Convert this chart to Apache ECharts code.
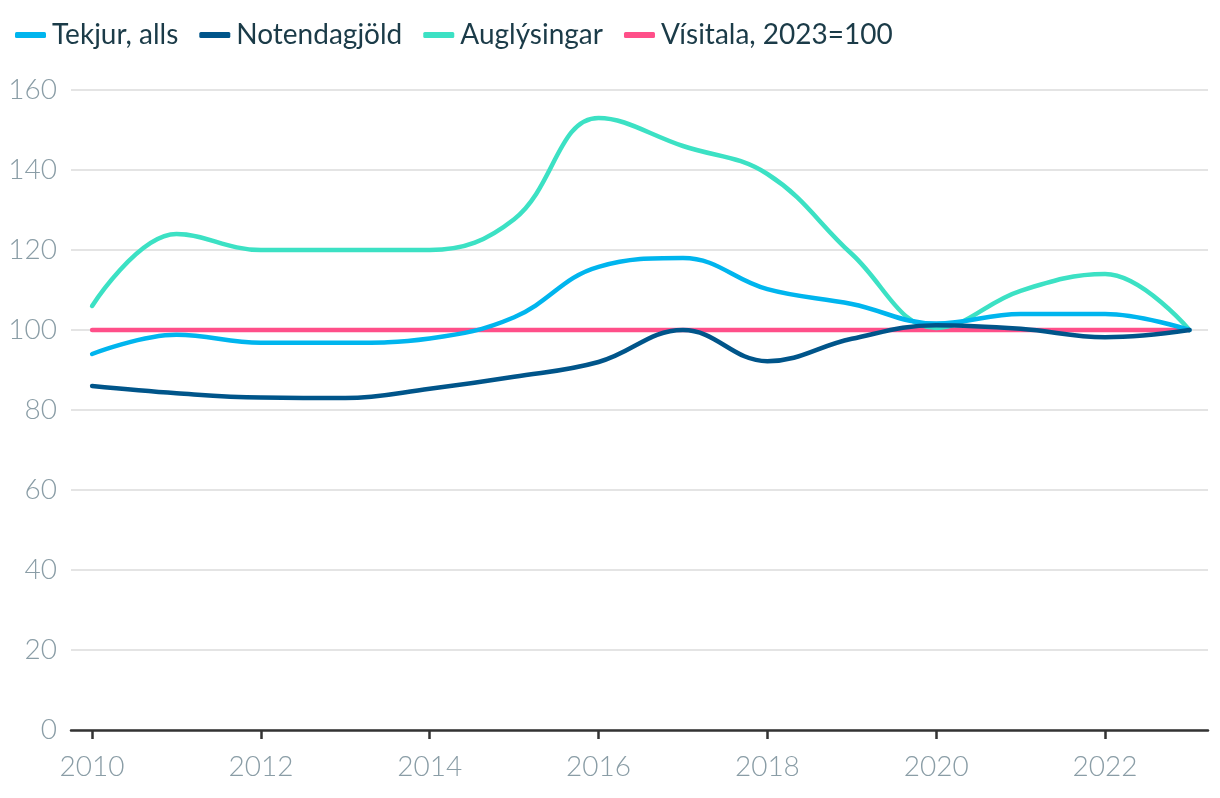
<!DOCTYPE html>
<html>
<head>
<meta charset="utf-8">
<script src="https://cdn.jsdelivr.net/npm/echarts@6/dist/echarts.min.js"></script>
<style>
html,body{margin:0;padding:0;background:#fff;}
#chart{width:1220px;height:798px;}
</style>
</head>
<body>
<div id="chart"></div>
<script>
const years = [2010,2011,2012,2013,2014,2015,2016,2017,2018,2019,2020,2021,2022,2023];
const xTickLabels = [2010,2012,2014,2016,2018,2020,2022];
const tekjur = [94,98.8,96.8,96.8,97.9,103.2,115.8,118,110.2,106.5,101.6,104,104,100];
const notendagjold = [86,84.2,83.1,83,85.3,88.3,92,100,92.2,97.8,101.2,100.3,98.2,100];
const auglysingar = [106,124,120,120,120,127.7,153,146,139,119,100.5,109.8,114,100];
const visitala = [100,100,100,100,100,100,100,100,100,100,100,100,100,100];
const seriesNames = ['Tekjur, alls','Notendagjöld','Auglýsingar','Vísitala, 2023=100'];
const colors = {'Tekjur, alls':'#00b5ee','Notendagjöld':'#00558a','Auglýsingar':'#3ce1c4','Vísitala, 2023=100':'#ff4f89'};

function pairs(arr){ return years.map((y,i)=>[y,arr[i]]); }
function mk(name, arr, z){
  return {
    name: name, type:'line', data: pairs(arr), smooth:0.4,
    showSymbol:false, symbol:'none', z:z,
    lineStyle:{width:4.5, color:colors[name], cap:'round', join:'round'},
    itemStyle:{color:colors[name]}
  };
}
const chart = echarts.init(document.getElementById('chart'), null, {renderer:'canvas'});
chart.setOption({
  animation:false,
  backgroundColor:'#ffffff',
  legend:{
    data: seriesNames.map(n=>({name:n, icon:'roundRect'})),
    left:10, top:16, itemWidth:31, itemHeight:6, itemGap:21,
    textStyle:{fontFamily:'Lato', fontSize:28, color:'#1b3b48', padding:[0,0,0,1]}
  },
  grid:{left:71, right:12, top:90, bottom:68, containLabel:false},
  xAxis:{
    type:'value', min:2009.75, max:2023.22,
    axisLine:{show:true, lineStyle:{color:'#333333', width:2.5}},
    axisTick:{show:true, customValues:xTickLabels, length:9, lineStyle:{color:'#333333', width:2.5}},
    axisLabel:{customValues:xTickLabels, fontFamily:'Lato', fontWeight:300, fontSize:28, color:'#8a9da6', margin:23, formatter:v=>String(v)},
    splitLine:{show:false}
  },
  yAxis:{
    type:'value', min:0, max:160, interval:20,
    axisLine:{show:false}, axisTick:{show:false},
    axisLabel:{fontFamily:'Lato', fontWeight:300, fontSize:28, color:'#8a9da6', margin:14},
    splitLine:{lineStyle:{color:'#e4e4e4', width:2}}
  },
  series:[
    mk('Vísitala, 2023=100', visitala, 1),
    mk('Auglýsingar', auglysingar, 2),
    mk('Tekjur, alls', tekjur, 3),
    mk('Notendagjöld', notendagjold, 4)
  ]
});
</script>
</body>
</html>
